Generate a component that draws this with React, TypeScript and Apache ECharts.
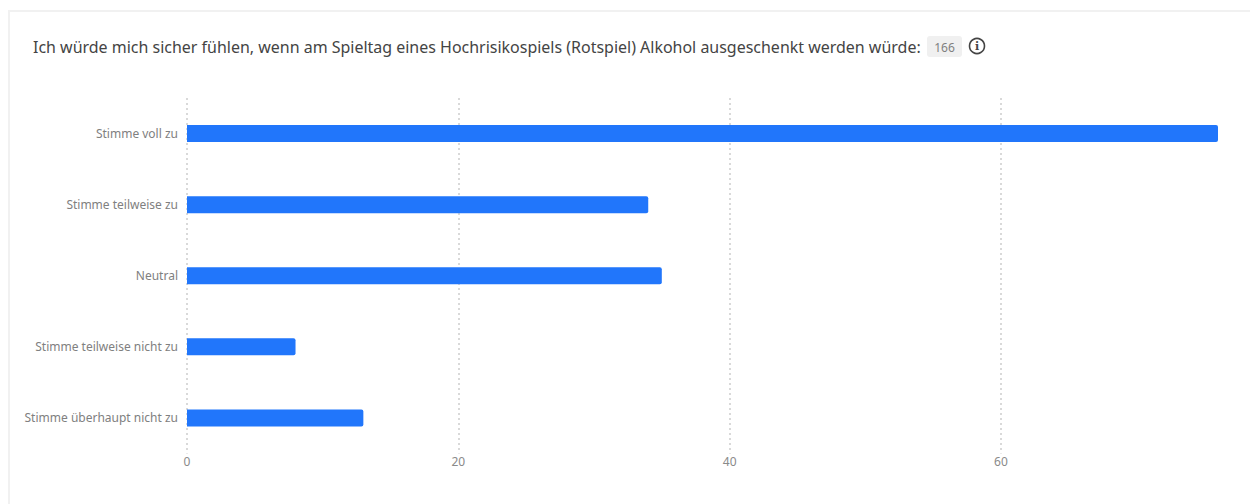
import React, { useEffect, useRef } from "react";
import * as echarts from "echarts";

const categories = [
  "Stimme voll zu",
  "Stimme teilweise zu",
  "Neutral",
  "Stimme teilweise nicht zu",
  "Stimme überhaupt nicht zu",
];
const answers = [76, 34, 35, 8, 13];
const question =
  "Ich würde mich sicher fühlen, wenn am Spieltag eines Hochrisikospiels (Rotspiel) Alkohol ausgeschenkt werden würde:";
const responseCount = "166";
const FONT = "'Noto Sans', 'Open Sans', sans-serif";

export default function App() {
  const ref = useRef<HTMLDivElement>(null);
  useEffect(() => {
    document.body.style.margin = "0";
    const chart = echarts.init(ref.current!, null, { renderer: "svg" });
    chart.setOption({
      animation: false,
      backgroundColor: "#ffffff",
      grid: { left: 187, top: 98, width: 1031, height: 355.5, containLabel: false },
      xAxis: {
        type: "value",
        min: 0,
        max: 76,
        interval: 20,
        axisLine: { show: false },
        axisTick: { show: false },
        axisLabel: {
          color: "#8a8a8a",
          fontFamily: FONT,
          fontSize: 12,
          margin: 1.5,
          showMaxLabel: false,
        },
        splitLine: {
          show: true,
          showMaxLine: false,
          lineStyle: { color: "#d9d9d9", type: [2, 3], width: 2 },
        },
      },
      yAxis: {
        type: "category",
        inverse: true,
        data: categories,
        axisLine: { show: false },
        axisTick: { show: false },
        axisLabel: { color: "#808080", fontFamily: FONT, fontSize: 12, margin: 9 },
      },
      series: [
        {
          type: "bar",
          data: answers,
          barWidth: 17,
          itemStyle: { color: "#2176fb", borderRadius: [0, 2, 2, 0] },
        },
      ],
      graphic: [
        {
          type: "polyline",
          shape: { points: [[9, 504], [9, 11], [1250, 11]] },
          style: { stroke: "#f1f1f1", fill: "none", lineWidth: 2 },
        },
        {
          type: "text",
          x: 33,
          y: 46.5,
          style: {
            text: question,
            fontFamily: FONT,
            fontSize: 15.98,
            fill: "#444444",
            verticalAlign: "middle",
          },
        },
        {
          type: "rect",
          shape: { x: 927, y: 36, width: 35, height: 21, r: 3 },
          style: { fill: "#f0f0f0" },
        },
        {
          type: "text",
          x: 944.5,
          y: 47,
          style: {
            text: responseCount,
            fontFamily: FONT,
            fontSize: 12,
            fill: "#808080",
            align: "center",
            verticalAlign: "middle",
          },
        },
        {
          type: "circle",
          shape: { cx: 977, cy: 46, r: 7.5 },
          style: { fill: "none", stroke: "#444444", lineWidth: 1.6 },
        },
        {
          type: "text",
          x: 977,
          y: 46,
          style: {
            text: "i",
            fontFamily: "'DejaVu Serif', serif",
            fontWeight: "bold",
            fontSize: 11,
            fill: "#444444",
            align: "center",
            verticalAlign: "middle",
          },
        },
      ],
    });
    return () => chart.dispose();
  }, []);
  return <div ref={ref} style={{ width: 1250, height: 504 }} />;
}
